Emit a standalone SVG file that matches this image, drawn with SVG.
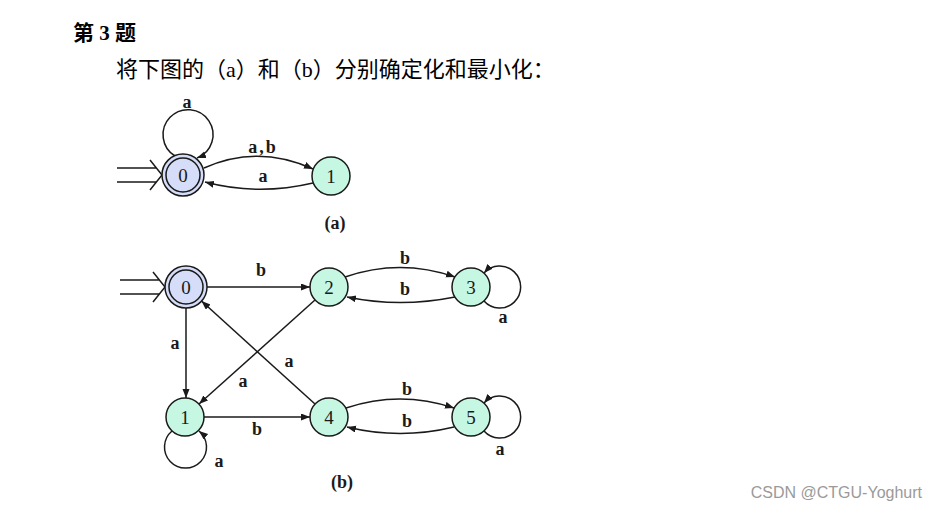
<svg xmlns="http://www.w3.org/2000/svg" width="937" height="512" viewBox="0 0 937 512">
<defs>
<marker id="ah" markerUnits="userSpaceOnUse" markerWidth="10" markerHeight="8" refX="9" refY="3.5" orient="auto">
<path d="M0,0 L9,3.5 L0,7 z" fill="#1a1a1a"/>
</marker>
<style>
.e{fill:none;stroke:#1a1a1a;stroke-width:1.5;marker-end:url(#ah)}
.s{fill:none;stroke:#1a1a1a;stroke-width:1.5}
.st{fill:#c6f7e2;stroke:#1a1a1a;stroke-width:1.5}
.ac{fill:#d6ddf8;stroke:#1a1a1a;stroke-width:1.5}
.n{font-family:"Liberation Serif",serif;font-size:19px;text-anchor:middle;fill:#1a1a1a}
.l{font-family:"Liberation Serif",serif;font-size:18px;font-weight:bold;text-anchor:middle;fill:#1a1a1a}
</style>
</defs>
<rect width="937" height="512" fill="#ffffff"/>
<text x="73" y="40" font-family="'Liberation Serif','Noto Sans CJK SC',serif" font-size="21" font-weight="bold" fill="#000">第 3 题</text>
<text x="116" y="77" font-family="'Liberation Serif','Noto Sans CJK SC',serif" font-size="22" fill="#000">将下图的（a）和（b）分别确定化和最小化：</text>

<g id="connectors">
<!-- (a) -->
<path class="s" d="M117,168 H156 M117,182 H156 M150,160 L162,175 L150,190"/>
<path class="e" d="M175,156 A25,25 0 1 1 197,158"/>
<path class="e" d="M204,168 Q258,144 313,169"/>
<path class="e" d="M313,183 Q258,196 205,182"/>
<!-- (b) -->
<path class="s" d="M120,280 H159 M120,294 H159 M153,272 L165,287 L153,302"/>
<path class="e" d="M207,287 L310,287"/>
<path class="e" d="M345,277 Q400,258 455,277"/>
<path class="e" d="M455,297 Q400,308 347,297"/>
<path class="e" d="M484,301 A21,21 0 1 0 484,273"/>
<path class="e" d="M186,308 L186,398"/>
<path class="e" d="M315,300 L199,404"/>
<path class="e" d="M315,404 L201.5,301"/>
<path class="e" d="M204,417 L310,417"/>
<path class="e" d="M172,431 A21,21 0 1 0 199,431"/>
<path class="e" d="M346,408 Q400,390 454,408"/>
<path class="e" d="M454,427 Q400,440 347,427"/>
<path class="e" d="M484,431 A21,21 0 1 0 484,403"/>
</g>

<g id="labels">
<text class="l" x="187" y="108">a</text>
<text class="l" x="263" y="153" letter-spacing="2">a,b</text>
<text class="l" x="263" y="182">a</text>
<text class="l" x="335" y="229">(a)</text>
<text class="l" x="261" y="276">b</text>
<text class="l" x="405" y="264">b</text>
<text class="l" x="405" y="295">b</text>
<text class="l" x="503" y="323">a</text>
<text class="l" x="175" y="349">a</text>
<text class="l" x="243" y="387">a</text>
<text class="l" x="289" y="367">a</text>
<text class="l" x="257" y="435">b</text>
<text class="l" x="407" y="395">b</text>
<text class="l" x="407" y="427">b</text>
<text class="l" x="500" y="455">a</text>
<text class="l" x="219" y="467">a</text>
<text class="l" x="342" y="488">(b)</text>
</g>

<g id="a0"><circle class="ac" cx="183" cy="175" r="21"/><circle class="ac" cx="183" cy="175" r="17"/><text class="n" x="183" y="182">0</text></g>
<g id="a1"><circle class="st" cx="331" cy="176" r="19"/><text class="n" x="331" y="183">1</text></g>

<g id="b0"><circle class="ac" cx="186" cy="287" r="21"/><circle class="ac" cx="186" cy="287" r="17"/><text class="n" x="186" y="294">0</text></g>
<g id="b2"><circle class="st" cx="329" cy="287" r="19"/><text class="n" x="329" y="294">2</text></g>
<g id="b3"><circle class="st" cx="471" cy="287" r="19"/><text class="n" x="471" y="294">3</text></g>
<g id="b1"><circle class="st" cx="185" cy="417" r="19"/><text class="n" x="185" y="424">1</text></g>
<g id="b4"><circle class="st" cx="329" cy="417" r="19"/><text class="n" x="329" y="424">4</text></g>
<g id="b5"><circle class="st" cx="471" cy="417" r="19"/><text class="n" x="471" y="424">5</text></g>

<text x="922" y="498" text-anchor="end" font-family="'Liberation Sans',sans-serif" font-size="16" fill="#9a9a9a">CSDN @CTGU-Yoghurt</text>
</svg>
